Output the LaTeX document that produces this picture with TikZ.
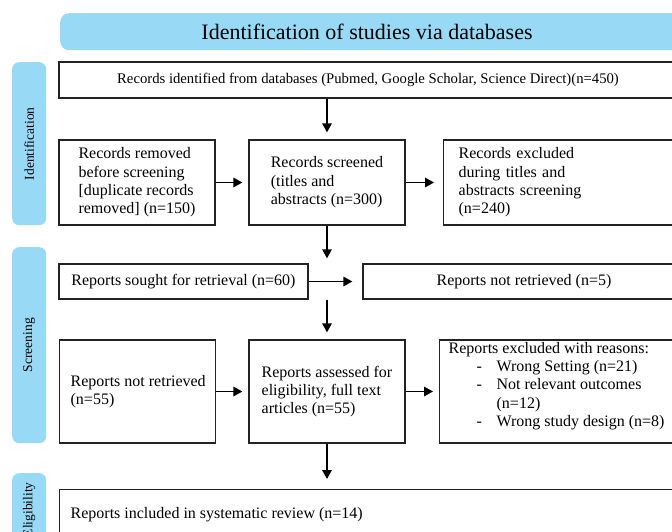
\documentclass[tikz,border=0pt]{standalone}
\usepackage{fontspec}
\setmainfont{Liberation Serif}
\usetikzlibrary{arrows.meta,calc}
\definecolor{phase}{RGB}{152,217,246}
\definecolor{edge}{RGB}{35,35,35}
\begin{document}
\begin{tikzpicture}[x=1pt,y=-1pt,
  box/.style={draw=edge, line width=1.3pt, inner sep=0pt, font=\fontsize{16}{18.4}\selectfont},
  phasebar/.style={fill=phase, rounded corners=7pt, draw=none, inner sep=0pt, minimum width=34pt},
  phaselabel/.style={rotate=90, font=\fontsize{13.5}{16}\selectfont},
  arr/.style={draw=black, line width=1.6pt, -{Triangle[length=9pt,width=9.5pt]}}
]
\clip (0,0) rectangle (672,531);
\fill[white] (0,0) rectangle (672,531);

% banner
\node[fill=phase, rounded corners=9pt, inner sep=0pt, minimum width=640pt, minimum height=37pt, anchor=north west] (banner) at (60,13) {};
\node[font=\fontsize{22}{26}\selectfont, inner sep=0pt] (title) at (367,31.5) {Identification of studies via databases};

% phase bars
\node[phasebar, minimum height=163pt, anchor=north west] (pid) at (12,62) {};
\node[phaselabel] (lid) at (pid.center) {Identification};
\node[phasebar, minimum height=196pt, anchor=north west] (psc) at (12,247) {};
\node[phaselabel] (lsc) at (psc.center) {Screening};
\node[phasebar, minimum height=73pt, anchor=north west] (pel) at (12,473) {};
\node[phaselabel] (lel) at (pel.center) {Eligibility};

% boxes
\node[box, minimum width=618pt, minimum height=36pt, font=\fontsize{14.7}{17}\selectfont] (box1) at (368,80)
  {Records identified from databases (Pubmed, Google Scholar, Science Direct)(n=450)};

\node[box, minimum width=156pt, minimum height=85pt, align=left] (A) at (137,182.5)
  {Records removed\\before screening\\{[}duplicate records\\removed] (n=150)};
\node[box, minimum width=156pt, minimum height=85pt, align=left] (B) at (327,182.5)
  {Records screened\\(titles and\\abstracts (n=300)};
\node[box, anchor=west, minimum height=85pt, text width=230pt, inner xsep=15pt, align=left] (C) at (443,182.5)
  {Records excluded\\during titles and\\abstracts screening\\(n=240)};

\node[box, minimum width=249pt, minimum height=35pt] (D) at (183.5,281.5)
  {Reports sought for retrieval (n=60)};
\node[box, minimum width=322pt, minimum height=35pt] (E) at (524,281.5)
  {Reports not retrieved (n=5)};

\node[box, anchor=west, minimum height=103pt, inner xsep=11pt] (F) at (59,391.5)
  {\parbox{134pt}{\mbox{Reports not retrieved}\\(n=55)}};
\node[box, minimum width=156pt, minimum height=103pt, align=left] (G) at (327,391.5)
  {Reports assessed for\\eligibility, full text\\articles (n=55)};
\node[box, anchor=west, minimum height=103pt, inner xsep=9pt] (H) at (439,391.5)
  {\parbox[c][99pt][t]{240pt}{Reports excluded with reasons:\\
   \hspace*{28pt}\makebox[20pt][l]{-}Wrong Setting (n=21)\\
   \hspace*{28pt}\makebox[20pt][l]{-}Not relevant outcomes\\
   \hspace*{48pt}(n=12)\\
   \hspace*{28pt}\makebox[20pt][l]{-}Wrong study design (n=8)}};

\node[box, anchor=north west, minimum height=50pt, inner xsep=11pt] (I) at (59,489)
  {\makebox[618pt][l]{Reports included in systematic review (n=14)}};

% connectors
\draw[arr, shorten >=7pt] (box1.south -| B.north) -- (B.north);
\draw[arr, shorten >=6pt] (A.east) -- (B.west);
\draw[arr, shorten >=9pt] (B.east) -- (C.west);
\coordinate (r3) at (B.south |- D.north);
\draw[arr, shorten >=5pt] (B.south) -- (r3);
\draw[arr, shorten >=10pt] (D.east) -- (E.west);
\coordinate (r3b) at (G.north |- D.south);
\draw[arr, shorten >=7pt] (r3b) -- (G.north);
\draw[arr, shorten >=6pt] (F.east) -- (G.west);
\draw[arr, shorten >=6pt] (G.east) -- (H.west);
\coordinate (r5) at (G.south |- I.north);
\draw[arr, shorten >=10pt] (G.south) -- (r5);
\end{tikzpicture}
\end{document}
